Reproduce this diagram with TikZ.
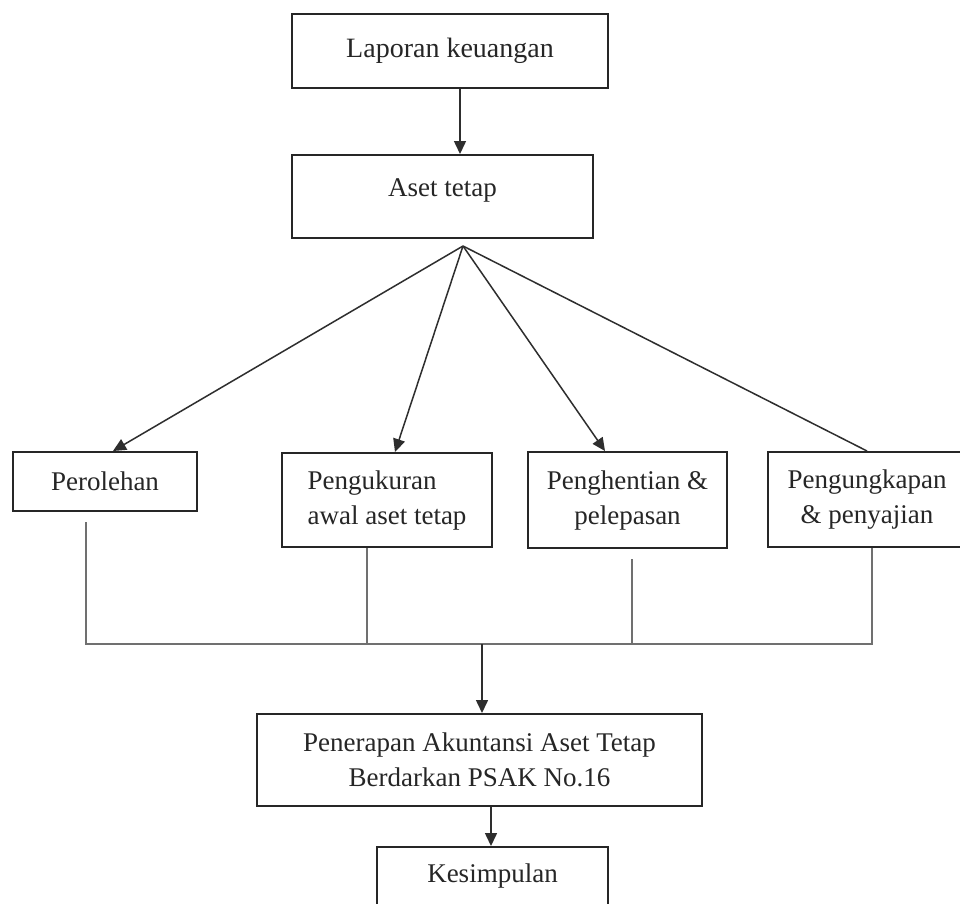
\documentclass[tikz,border=0pt]{standalone}
\usepackage{fontspec}
\setmainfont{Liberation Serif}
\usetikzlibrary{arrows.meta,calc}
\definecolor{boxc}{HTML}{262626}
\definecolor{linec}{HTML}{2E2E2E}
\definecolor{busc}{HTML}{707070}
\begin{document}
\begin{tikzpicture}[x=1pt,y=-1pt,
  box/.style={draw=boxc,line width=2pt,inner sep=0pt,anchor=center,
    font=\fontsize{27}{35}\selectfont,align=center,text=black!85},
  arr/.style={draw=linec,line width=1.5pt,-{Triangle[length=13pt,width=12pt]}},
  lnk/.style={draw=linec,line width=1.5pt},
  bus/.style={draw=busc,line width=1.8pt}]
\useasboundingbox (0,0) rectangle (960,903);
\clip (0,0) rectangle (960,903);
\fill[white] (0,0) rectangle (960,903);

% boxes
\node[box,minimum width=316pt,minimum height=74pt,font=\fontsize{28}{35}\selectfont] (lap) at (450,51) {Laporan keuangan};
\node[box,minimum width=301pt,minimum height=83pt] (aset) at (442.5,196.5) {};
\node[font=\fontsize{27}{35}\selectfont,text=black!85,inner sep=0pt] (asettxt) at ($(aset.center)+(0,-6)$) {Aset tetap};
\node[box,minimum width=184pt,minimum height=59pt] (per) at (105,481.5) {Perolehan};
\node[box,minimum width=210pt,minimum height=94pt,align=left] (peng) at (387,500) {Pengukuran\\awal aset tetap};
\node[box,minimum width=199pt,minimum height=96pt] (phen) at (627.5,500) {Penghentian \&\\pelepasan};
\node[box,minimum width=198pt,minimum height=95pt] (pung) at (867,499.5) {Pengungkapan\\\& penyajian};
\node[box,minimum width=445pt,minimum height=92pt] (pen) at (479.5,760) {Penerapan Akuntansi Aset Tetap\\Berdarkan PSAK No.16};
\node[box,minimum width=231pt,minimum height=58pt] (kes) at (492.5,876) {Kesimpulan};

% top connectors
\draw[arr] ($(lap.south)+(10,0)$) -- ($(aset.north)+(17.5,0)$);
\coordinate (apex) at ($(aset.south)+(20.5,7)$);
\draw[arr] (apex) -- ($(per.north)+(8,0)$);
\draw[arr] (apex) -- ($(peng.north)+(8,0)$);
\draw[arr] (apex) -- ($(phen.north)+(-22.5,0)$);
\draw[lnk] (apex) -- (pung.north);

% bottom bus
\coordinate (b1) at ($(per.south)+(-19,132)$);
\coordinate (b4) at ($(pung.south)+(5,96)$);
\draw[bus] ($(per.south)+(-19,10)$) -- (b1) -- (b4) -- ($(pung.south)+(5,0)$);
\draw[bus] ($(peng.south)+(-20,0)$) -- ++(0,96);
\draw[bus] ($(phen.south)+(4.5,10)$) -- ++(0,85);
\coordinate (bm) at (b1 -| pen.north);
\draw[arr] ($(bm)+(2.5,0)$) -- ($(pen.north)+(2.5,0)$);
\draw[arr] ($(pen.south)+(11.5,0)$) -- ($(kes.north)+(-1.5,0)$);
\end{tikzpicture}
\end{document}
